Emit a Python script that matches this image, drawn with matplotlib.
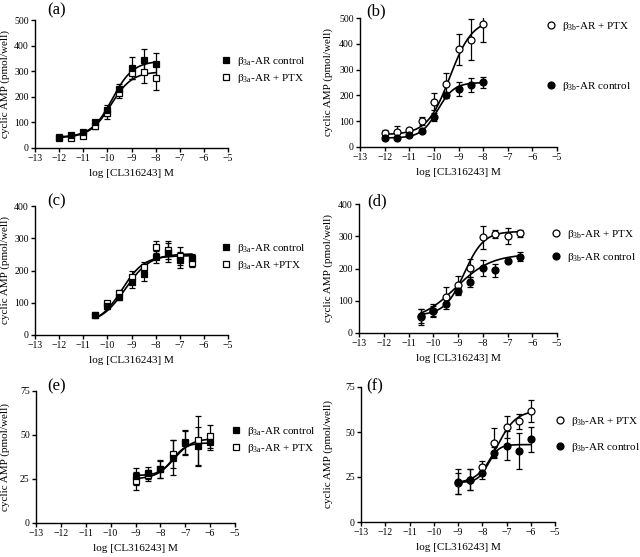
import numpy as np
import matplotlib
matplotlib.use('Agg')
import matplotlib.pyplot as plt

plt.rcParams['font.family'] = ['Liberation Serif', 'DejaVu Serif']
plt.rcParams['mathtext.fontset'] = 'custom'
plt.rcParams['mathtext.rm'] = 'Liberation Serif'
plt.rcParams['mathtext.it'] = 'Liberation Serif:italic'

# Log concentrations of CL316243 (M)
x_ab = [-12, -11.5, -11, -10.5, -10, -9.5, -9, -8.5, -8]
x_cd = [-10.5, -10, -9.5, -9, -8.5, -8, -7.5, -7, -6.5]
x_ef = [-9, -8.5, -8, -7.5, -7, -6.5, -6]

# (a) beta3a, first cell line
a_ctrl = [42, 51, 62, 101, 147, 229, 313, 343, 327]
a_ctrl_err = [6, 5, 6, 8, 22, 22, 42, 45, 45]
a_ptx = [38, 40, 47, 84, 135, 213, 293, 297, 275]
a_ptx_err = [5, 5, 6, 8, 20, 18, 25, 45, 47]

# (b) beta3b, first cell line
b_ptx = [53, 60, 65, 102, 176, 245, 378, 416, 476]
b_ptx_err = [12, 22, 10, 15, 32, 40, 60, 80, 68]
b_ctrl = [34, 34, 47, 62, 115, 200, 224, 240, 250]
b_ctrl_err = [6, 5, 10, 6, 15, 10, 28, 27, 22]

# (c) beta3a, second cell line
c_ctrl = [62, 91, 119, 165, 188, 242, 255, 232, 239]
c_ctrl_err = [6, 10, 12, 18, 20, 18, 30, 25, 12]
c_ptx = [62, 98, 129, 180, 211, 273, 263, 245, 222]
c_ptx_err = [6, 8, 12, 18, 15, 18, 28, 28, 12]

# (d) beta3b, second cell line
d_ptx = [49, 69, 113, 150, 201, 297, 307, 302, 309]
d_ptx_err = [25, 15, 30, 28, 28, 36, 12, 25, 10]
d_ctrl = [52, 69, 90, 129, 158, 201, 195, 224, 237]
d_ctrl_err = [22, 20, 15, 12, 15, 25, 20, 5, 15]

# (e) beta3a, third cell line
e_ctrl = [26.5, 28.4, 30.7, 37.1, 46.0, 43.6, 46.0]
e_ctrl_err = [5, 3.5, 5, 10, 7, 11, 4.5]
e_ptx = [23.9, 27.1, 30.5, 39.0, 45.5, 47.0, 49.2]
e_ptx_err = [5, 3, 5, 8, 7, 14, 6.5]

# (f) beta3b, third cell line
f_ptx = [21.4, 23.6, 30.7, 44.0, 52.7, 55.9, 61.8]
f_ptx_err = [6, 6, 3, 8, 6, 4, 6]
f_ctrl = [22.3, 23.6, 27.0, 38.5, 42.5, 39.5, 46.0]
f_ctrl_err = [7, 6, 3, 3, 8, 10, 7]

# fitted sigmoid parameters (bottom, top, logEC50, hill)
fit_a_ctrl = (42, 340, -9.8, 1.0)
fit_a_ptx = (40, 298, -9.85, 1.0)
fit_b_ptx = (48, 495, -9.35, 0.95)
fit_b_ctrl = (35, 250, -9.85, 1.3)
fit_c_ctrl = (35, 252, -9.25, 0.85)
fit_c_ptx = (35, 246, -9.4, 0.95)
fit_d_ptx = (55, 315, -8.75, 1.1)
fit_d_ctrl = (35, 245, -9.1, 0.6)
fit_e_ctrl = (27, 45.5, -7.5, 1.6)
fit_e_ptx = (25, 48, -7.45, 1.2)
fit_f_ptx = (21.5, 62, -7.4, 1.1)
fit_f_ctrl = (22, 43, -7.75, 2.0)

xlabel = 'log [CL316243] M'
ylabel = 'cyclic AMP (pmol/well)'

W, H = 640, 557
LEG_FS = 8


def sigmoid(x, p):
    bottom, top, logec50, hill = p
    return bottom + (top - bottom) / (1 + 10 ** ((logec50 - x) * hill))


def draw_series(ax, x, y, err, fit, filled, marker, label):
    xs = np.linspace(x[0], x[-1], 200)
    ax.plot(xs, sigmoid(xs, fit), color='black', lw=1.2, zorder=2)
    ax.errorbar(x, y, yerr=err, fmt='none', ecolor='black', elinewidth=0.9,
                capsize=2.5, capthick=0.9, zorder=3)
    ax.plot(x, y, linestyle='none', marker=marker, ms=5,
            mfc='black' if filled else 'white', mec='black', mew=0.9,
            label=label, zorder=4)


def style_axis(ax, ymax, ystep, ylab_px, left, width):
    ax.set_xlim(-13, -5)
    ax.set_ylim(0, ymax)
    ax.set_xticks(range(-13, -4))
    ax.set_yticks(np.arange(0, ymax + 1, ystep))
    ax.spines['top'].set_visible(False)
    ax.spines['right'].set_visible(False)
    ax.tick_params(direction='out', length=3, width=1.0, labelsize=7, pad=1.5)
    ax.set_xlabel(xlabel, fontsize=8, labelpad=4)
    ax.set_ylabel(ylabel, fontsize=8)
    ax.yaxis.set_label_coords((ylab_px - left) / width, 0.5)
    for s in ['left', 'bottom']:
        ax.spines[s].set_linewidth(1.0)


fig = plt.figure(figsize=(6.4, 5.57), dpi=100)


def add_axes(left, right, top, bottom):
    return fig.add_axes([left / W, 1 - bottom / H, (right - left) / W, (bottom - top) / H])


def add_legend(ax, x_px, y_px, spacing, reverse):
    h, l = ax.get_legend_handles_labels()
    if reverse:
        h, l = h[::-1], l[::-1]
    ax.legend(h, l, loc='upper left', bbox_to_anchor=(x_px / W, 1 - y_px / H),
              bbox_transform=fig.transFigure, frameon=False, fontsize=LEG_FS,
              handlelength=1, handletextpad=0.5, borderpad=0, borderaxespad=0,
              labelspacing=spacing)


beta3a_ctrl = r'$\mathrm{\beta_{3a}}$-AR control'
beta3a_ptx = r'$\mathrm{\beta_{3a}}$-AR + PTX'
beta3b_ctrl = r'$\mathrm{\beta_{3b}}$-AR control'
beta3b_ptx = r'$\mathrm{\beta_{3b}}$-AR + PTX'

# (a)
ax = add_axes(35, 228, 20, 148)
draw_series(ax, x_ab, a_ptx, a_ptx_err, fit_a_ptx, False, 's', beta3a_ptx)
draw_series(ax, x_ab, a_ctrl, a_ctrl_err, fit_a_ctrl, True, 's', beta3a_ctrl)
style_axis(ax, 500, 100, 10, 35, 193)
add_legend(ax, 220, 55, 0.35, True)
fig.text(57 / W, 1 - 10 / H, '(a)', fontsize=12, ha='center', va='center')

# (b)
ax = add_axes(360, 557, 18, 147)
draw_series(ax, x_ab, b_ptx, b_ptx_err, fit_b_ptx, False, 'o', beta3b_ptx)
draw_series(ax, x_ab, b_ctrl, b_ctrl_err, fit_b_ctrl, True, 'o', beta3b_ctrl)
style_axis(ax, 500, 100, 333, 360, 197)
add_legend(ax, 545, 20, 4.2, False)
fig.text(376 / W, 1 - 11 / H, '(b)', fontsize=12, ha='center', va='center')

# (c)
ax = add_axes(35, 228, 206, 335)
draw_series(ax, x_cd, c_ptx, c_ptx_err, fit_c_ptx, False, 's', r'$\mathrm{\beta_{3a}}$-AR +PTX')
draw_series(ax, x_cd, c_ctrl, c_ctrl_err, fit_c_ctrl, True, 's', beta3a_ctrl)
style_axis(ax, 400, 100, 10, 35, 193)
add_legend(ax, 220, 242, 0.35, True)
fig.text(57 / W, 1 - 201 / H, '(c)', fontsize=12, ha='center', va='center')

# (d)
ax = add_axes(359, 557, 204, 333)
draw_series(ax, x_cd, d_ptx, d_ptx_err, fit_d_ptx, False, 'o', beta3b_ptx)
draw_series(ax, x_cd, d_ctrl, d_ctrl_err, fit_d_ctrl, True, 'o', beta3b_ctrl)
style_axis(ax, 400, 100, 333, 359, 198)
add_legend(ax, 550, 228, 0.9, False)
fig.text(377 / W, 1 - 201 / H, '(d)', fontsize=12, ha='center', va='center')

# (e)
ax = add_axes(36, 235, 391, 523)
draw_series(ax, x_ef, e_ptx, e_ptx_err, fit_e_ptx, False, 's', beta3a_ptx)
draw_series(ax, x_ef, e_ctrl, e_ctrl_err, fit_e_ctrl, True, 's', beta3a_ctrl)
style_axis(ax, 75, 25, 10, 36, 199)
add_legend(ax, 230, 425, 0.35, True)
fig.text(57 / W, 1 - 386 / H, '(e)', fontsize=12, ha='center', va='center')

# (f)
ax = add_axes(361, 555, 387, 522)
draw_series(ax, x_ef, f_ptx, f_ptx_err, fit_f_ptx, False, 'o', beta3b_ptx)
draw_series(ax, x_ef, f_ctrl, f_ctrl_err, fit_f_ctrl, True, 'o', beta3b_ctrl)
style_axis(ax, 75, 25, 333, 361, 194)
add_legend(ax, 554, 415, 1.2, False)
fig.text(375 / W, 1 - 386 / H, '(f)', fontsize=12, ha='center', va='center')

fig.savefig('out.png', dpi=100)
